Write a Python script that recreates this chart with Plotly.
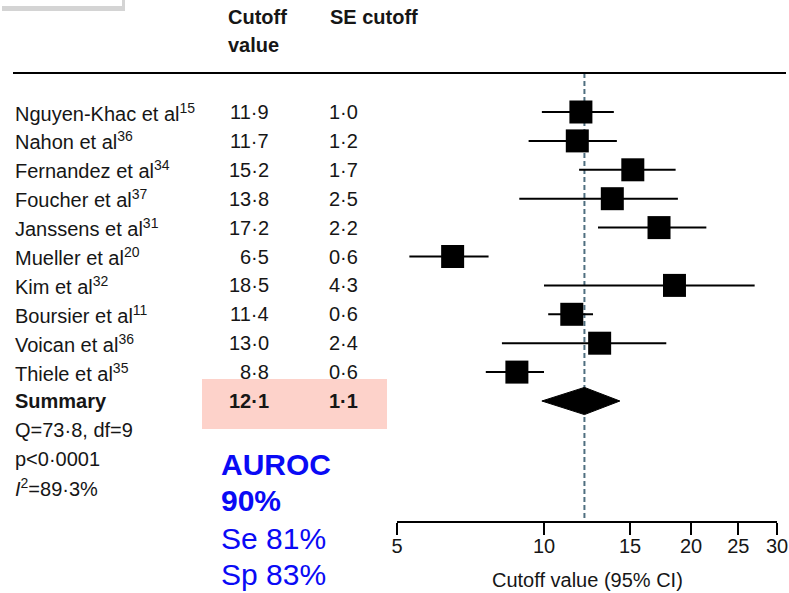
import math
import plotly.graph_objects as go

# ---- data -------------------------------------------------------------
studies = [
    "Nguyen-Khac et al<sup>15</sup>",
    "Nahon et al<sup>36</sup>",
    "Fernandez et al<sup>34</sup>",
    "Foucher et al<sup>37</sup>",
    "Janssens et al<sup>31</sup>",
    "Mueller et al<sup>20</sup>",
    "Kim et al<sup>32</sup>",
    "Boursier et al<sup>11</sup>",
    "Voican et al<sup>36</sup>",
    "Thiele et al<sup>35</sup>",
]
cutoff = [11.9, 11.7, 15.2, 13.8, 17.2, 6.5, 18.5, 11.4, 13.0, 8.8]
se_cutoff = [1.0, 1.2, 1.7, 2.5, 2.2, 0.6, 4.3, 0.6, 2.4, 0.6]
ci_low = [9.9, 9.3, 11.8, 8.9, 12.9, 5.3, 10.0, 10.2, 8.2, 7.6]
ci_high = [13.9, 14.1, 18.6, 18.8, 21.5, 7.7, 27.0, 12.6, 17.8, 10.0]

summary_value = 12.1
summary_se = 1.1
summary_low = 9.9
summary_high = 14.3

stats_lines = ["Q=73·8, df=9", "p<0·0001", "<i>I</i><sup>2</sup>=89·3%"]
perf_lines = ["<b>AUROC</b>", "<b>90%</b>", "Se 81%", "Sp 83%"]

tick_values = [5, 10, 15, 20, 25, 30]
tick_labels = ["5", "10", "15", "20", "25", "30"]


def fmt(v):
    return f"{v:.1f}".replace(".", "·")


# ---- page geometry ------------------------------------------------------
W, H = 789, 593
ROW0_PX, ROW_STEP = 112, 28.9
AXIS_PX = 521


def px(x):
    return x / W


def py(y):
    return 1 - y / H


def row_of(y_px):
    return 1 + (y_px - ROW0_PX) / ROW_STEP


FONT = "Liberation Sans, Arial, sans-serif"
FS = 20
INK = "#161616"
BLUE = "#0a0af5"

rows = list(range(1, len(studies) + 1))
summary_row = len(studies) + 1

fig = go.Figure()

# dashed reference line at the pooled estimate
fig.add_trace(go.Scatter(
    x=[summary_value, summary_value], y=[row_of(73), row_of(AXIS_PX)],
    mode="lines", line=dict(color="#4f6f80", width=2, dash="5px,3px"),
    hoverinfo="skip", showlegend=False, cliponaxis=False,
))

# study estimates with 95% CI
fig.add_trace(go.Scatter(
    x=cutoff, y=rows, mode="markers",
    marker=dict(symbol="square", size=23, color="black", line=dict(width=0)),
    error_x=dict(
        type="data", symmetric=False,
        array=[h - v for h, v in zip(ci_high, cutoff)],
        arrayminus=[v - l for v, l in zip(cutoff, ci_low)],
        width=0, thickness=2, color="black",
    ),
    showlegend=False, cliponaxis=False,
))

# summary diamond
half_h = 0.47
fig.add_trace(go.Scatter(
    x=[summary_low, summary_value, summary_high, summary_value, summary_low],
    y=[summary_row, summary_row - half_h, summary_row, summary_row + half_h, summary_row],
    mode="lines", fill="toself", fillcolor="black",
    line=dict(color="black", width=1), showlegend=False, cliponaxis=False,
))

annotations = []


def text(x, y, s, size=FS, color=INK, anchor="left", yref="y", family=FONT):
    annotations.append(dict(
        x=x, y=y, xref="paper", yref=yref, text=s, showarrow=False,
        xanchor=anchor, yanchor="middle",
        font=dict(family=family, size=size, color=color),
    ))


# column headers
text(px(226), py(17), "<b>Cutoff</b>", yref="paper")
text(px(226), py(45), "<b>value</b>", yref="paper")
text(px(328), py(17), "<b>SE cutoff</b>", yref="paper")

# study rows
for r, name, c, s in zip(rows, studies, cutoff, se_cutoff):
    text(px(13), r, name)
    text(px(271), r, fmt(c), anchor="right")
    text(px(360), r, fmt(s), anchor="right")

# summary row
text(px(13), summary_row, "<b>Summary</b>")
text(px(271), summary_row, f"<b>{fmt(summary_value)}</b>", anchor="right")
text(px(360), summary_row, f"<b>{fmt(summary_se)}</b>", anchor="right")

# heterogeneity statistics
for k, line in enumerate(stats_lines):
    text(px(13), summary_row + 1 + k, line)

# diagnostic performance
for y_px, line in zip([464, 501, 538, 574], perf_lines):
    text(px(219), py(y_px), line, size=30, color=BLUE, yref="paper")

# axis title
annotations.append(dict(
    x=(px(397) + px(777)) / 2, y=py(580), xref="paper", yref="paper",
    text="Cutoff value (95% CI)", showarrow=False, xanchor="center", yanchor="middle",
    font=dict(family=FONT, size=FS, color=INK),
))

shapes = [
    # highlight behind the summary estimate
    dict(type="rect", xref="paper", yref="paper", x0=px(202), x1=px(387),
         y0=py(379), y1=py(429), fillcolor="#fdd2ca", line=dict(width=0), layer="below"),
    # header rule
    dict(type="line", xref="paper", yref="paper", x0=px(13), x1=px(786),
         y0=py(73), y1=py(73), line=dict(color="black", width=2)),
    # small framed box at the top-left edge, with its drop shadow
    dict(type="rect", xref="paper", yref="paper", x0=px(2), x1=px(125),
         y0=py(11), y1=py(0), fillcolor="#d4d4d4", line=dict(width=0), layer="below"),
    dict(type="rect", xref="paper", yref="paper", x0=px(0), x1=px(122),
         y0=py(6), y1=py(0), fillcolor="white", line=dict(width=0), layer="below"),
]

fig.update_layout(
    template="none",
    width=W, height=H,
    autosize=False,
    margin=dict(l=0, r=0, t=0, b=0, pad=0, autoexpand=False),
    paper_bgcolor="white", plot_bgcolor="rgba(0,0,0,0)",
    annotations=annotations, shapes=shapes,
    xaxis=dict(
        type="log", domain=[px(397), px(777)],
        range=[math.log10(5), math.log10(30)],
        tickmode="array", tickvals=tick_values, ticktext=tick_labels,
        showline=True, linecolor="black", linewidth=2,
        ticks="outside", ticklen=12, tickwidth=2, tickcolor="black",
        ticklabelstandoff=-6,
        showgrid=False, zeroline=False, automargin=False,
        tickfont=dict(family=FONT, size=FS, color=INK),
    ),
    yaxis=dict(
        domain=[py(AXIS_PX), 1],
        range=[row_of(AXIS_PX), row_of(0)],
        showgrid=False, zeroline=False, showticklabels=False, showline=False,
        automargin=False,
    ),
    showlegend=False,
)

fig.write_html("out.html")
